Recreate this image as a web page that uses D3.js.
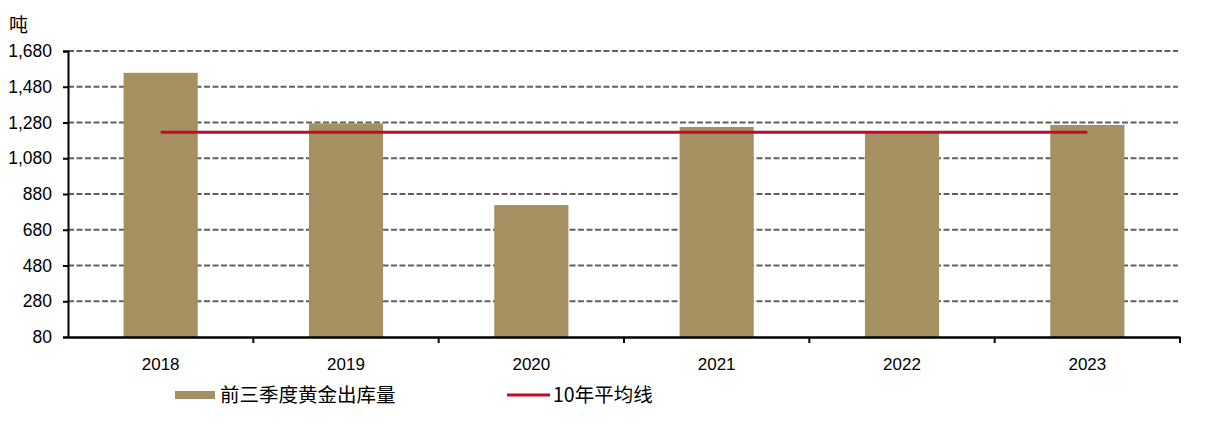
<!DOCTYPE html>
<html><head><meta charset="utf-8">
<script src="https://cdn.jsdelivr.net/npm/d3@7"></script>
<style>body{margin:0;background:#fff}svg{display:block}</style>
</head><body>
<script>
const categories = ["2018","2019","2020","2021","2022","2023"];
const outflow = [1558, 1275, 818, 1255, 1222, 1266];
const avg10 = [1225, 1225, 1225, 1225, 1225, 1225];
const yTicks = [80,280,480,680,880,1080,1280,1480,1680];
const seriesNames = ["前三季度黄金出库量","10年平均线"];

const W=1227,H=438;
const m={l:68,r:47,t:51,b:101};
const svg=d3.select("body").append("svg").attr("width",W).attr("height",H);
const x=d3.scaleBand().domain(categories).range([m.l,W-m.r]).paddingInner(0.6).paddingOuter(0.3);
const y=d3.scaleLinear().domain([80,1680]).range([H-m.b,m.t]);
const fontNum="'Liberation Sans', Arial, sans-serif";
const fontCJK="'Noto Sans CJK SC', sans-serif";

// gridlines
svg.append("g").selectAll("line").data(yTicks.filter(d=>d>80)).join("line")
  .attr("x1",m.l).attr("x2",W-m.r-2).attr("y1",d=>y(d)).attr("y2",d=>y(d))
  .attr("stroke","#606060").attr("stroke-width",2).attr("stroke-dasharray","6,2.5");

// bars
svg.append("g").selectAll("rect").data(outflow).join("rect")
  .attr("x",(d,i)=>x(categories[i])).attr("width",x.bandwidth())
  .attr("y",d=>y(d)).attr("height",d=>y(80)-y(d)).attr("fill","#A59062");

// avg line
const line=d3.line().x((d,i)=>x(categories[i])+x.bandwidth()/2).y(d=>y(d));
svg.append("path").datum(avg10).attr("d",line).attr("fill","none")
  .attr("stroke","#C00C28").attr("stroke-width",3);

// y axis
const ya=svg.append("g").attr("transform",`translate(${m.l},0)`)
  .call(d3.axisLeft(y).tickValues(yTicks).tickSize(5).tickPadding(11).tickFormat(d3.format(",")));
ya.select(".domain").attr("stroke","#000").attr("stroke-width",2);
ya.selectAll(".tick line").attr("stroke","#000").attr("stroke-width",2);
ya.selectAll("text").attr("font-family",fontNum).attr("font-size",17.5).attr("fill","#000");

// x axis
const xa=svg.append("g").attr("transform",`translate(0,${H-m.b})`)
  .call(d3.axisBottom(x).tickSize(0).tickPadding(21));
xa.select(".domain").attr("stroke","#000").attr("stroke-width",2.5);
xa.selectAll("text").attr("font-family",fontNum).attr("font-size",17).attr("fill","#000");
// x tick marks at band boundaries
const bounds=categories.map((c,i)=>x(c)-x.bandwidth()*0.75).slice(1).concat([W-m.r]);
svg.append("g").selectAll("line").data(bounds).join("line")
  .attr("x1",d=>d).attr("x2",d=>d).attr("y1",H-m.b).attr("y2",H-m.b+6)
  .attr("stroke","#000").attr("stroke-width",2);

// unit
svg.append("text").attr("x",9).attr("y",32).text("吨")
  .attr("font-family",fontCJK).attr("font-size",19).attr("fill","#000");

// legend
const lg=svg.append("g");
lg.append("rect").attr("x",175).attr("y",391).attr("width",40).attr("height",8).attr("fill","#A59062");
lg.append("text").attr("x",220).attr("y",402).text(seriesNames[0])
  .attr("font-family",fontCJK).attr("font-size",19.5).attr("fill","#000");
lg.append("line").attr("x1",507).attr("x2",550).attr("y1",395).attr("y2",395)
  .attr("stroke","#C00C28").attr("stroke-width",3);
lg.append("text").attr("x",553).attr("y",402).text(seriesNames[1])
  .attr("font-family",fontCJK).attr("font-size",19.5).attr("fill","#000");
</script>
</body></html>
